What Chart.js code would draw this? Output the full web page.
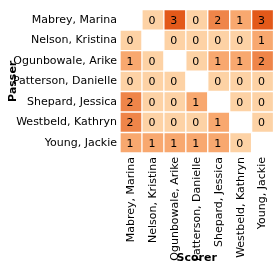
<!DOCTYPE html>
<html>
<head>
<meta charset="utf-8">
<script src="https://cdn.jsdelivr.net/npm/chart.js@4"></script>
<style>
  html, body { margin: 0; padding: 0; background: #fff; }
  #wrap { width: 280px; height: 270px; }
</style>
</head>
<body>
<div id="wrap"><canvas id="heat"></canvas></div>
<script>
// passers are rows, scorers are columns (same people)
const passers = ['Mabrey, Marina', 'Nelson, Kristina', 'Ogunbowale, Arike', 'Patterson, Danielle', 'Shepard, Jessica', 'Westbeld, Kathryn', 'Young, Jackie']
const scorers = ['Mabrey, Marina', 'Nelson, Kristina', 'Ogunbowale, Arike', 'Patterson, Danielle', 'Shepard, Jessica', 'Westbeld, Kathryn', 'Young, Jackie']

const rowMabrey = [null, 0, 3, 0, 2, 1, 3]
const rowNelson = [0, null, 0, 0, 0, 0, 1]
const rowOgunbowale = [1, 0, null, 0, 1, 1, 2]
const rowPatterson = [0, 0, 0, null, 0, 0, 0]
const rowShepard = [2, 0, 0, 1, null, 0, 0]
const rowWestbeld = [2, 0, 0, 0, 1, null, 0]
const rowYoung = [1, 1, 1, 1, 1, 0, null]

const assists = [rowMabrey, rowNelson, rowOgunbowale, rowPatterson, rowShepard, rowWestbeld, rowYoung]

const shades = ['#fdd2a5', '#f8a86f', '#ef8549', '#e3591a']
const FONT = 'DejaVu Sans'

// each passer row is a dataset of floating bars [row, row+1]
const datasets = assists.map((row, i) => ({
    label: passers[i],
    data: row.map(v => v === null ? null : [i, i + 1]),
    counts: row,
    backgroundColor: row.map(v => v === null ? 'rgba(0,0,0,0)' : shades[v]),
    borderColor: 'rgba(255,255,255,0.15)',
    borderWidth: 1,
    borderSkipped: false,
    barPercentage: 1,
    categoryPercentage: 1,
    grouped: false,
}))

const cellText = {
    id: 'cellText',
    afterDatasetsDraw(chart) {
        const ctx = chart.ctx
        ctx.save()
        ctx.font = '11px ' + FONT
        ctx.fillStyle = '#000'
        ctx.textAlign = 'center'
        ctx.textBaseline = 'middle'
        chart.data.datasets.forEach((ds, di) => {
            chart.getDatasetMeta(di).data.forEach((bar, j) => {
                const v = ds.counts[j]
                if (v === null) return
                ctx.fillText(String(v), bar.x - 1, (bar.y + bar.base) / 2 + 1)
            })
        })
        ctx.restore()
    }
}

const config = {
    type: 'bar',
    data: { labels: scorers, datasets: datasets },
    plugins: [cellText],
    options: {
        responsive: true,
        maintainAspectRatio: false,
        animation: false,
        layout: { padding: { top: 4, right: 3, left: 0, bottom: 0 } },
        plugins: { legend: { display: false }, tooltip: { enabled: false } },
        scales: {
            x: {
                grid: { display: false, drawTicks: false },
                border: { display: false },
                ticks: {
                    minRotation: 90, maxRotation: 90, autoSkip: false,
                    padding: 4, color: '#000', font: { family: FONT, size: 11 }
                },
                title: {
                    display: true, text: 'Scorer', color: '#000',
                    font: { family: FONT, size: 11, weight: 'bold' },
                    padding: { top: 0, bottom: 5 }
                },
                afterFit(scale) { scale.height = 117 }
            },
            y: {
                type: 'linear', min: 0, max: 7, reverse: true,
                grid: { display: false, drawTicks: false },
                border: { display: false },
                afterBuildTicks(scale) {
                    scale.ticks = passers.map((p, i) => ({ value: i + 0.5 }))
                },
                ticks: {
                    padding: 3, color: '#000', font: { family: FONT, size: 11 },
                    callback: v => passers[Math.floor(v)]
                },
                title: {
                    display: true, text: 'Passer', color: '#000',
                    font: { family: FONT, size: 11, weight: 'bold' },
                    padding: { top: 7, bottom: 0 }
                },
                afterFit(scale) { scale.width = 120 }
            }
        }
    }
}

const heatChart = new Chart(document.getElementById('heat'), config)
</script>
</body>
</html>
